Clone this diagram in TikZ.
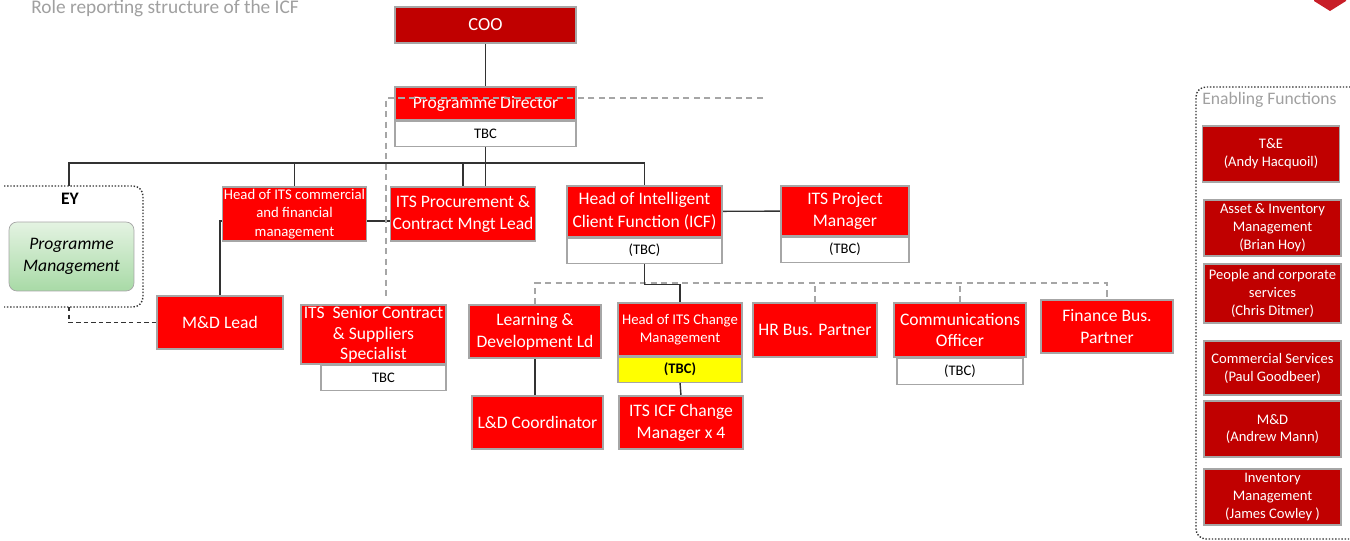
\documentclass[tikz,border=0pt]{standalone}
\usepackage{fontspec}
\setmainfont{Carlito}
\usetikzlibrary{positioning,backgrounds}

\definecolor{roleRed}{RGB}{255,0,0}
\definecolor{darkRed}{RGB}{192,0,0}
\definecolor{frameGrey}{RGB}{166,166,166}
\definecolor{titleGrey}{RGB}{160,160,160}
\definecolor{lineGrey}{RGB}{50,50,50}
\definecolor{pmTop}{RGB}{228,243,226}
\definecolor{pmBottom}{RGB}{168,218,166}
\definecolor{tbcYellow}{RGB}{255,255,0}
\definecolor{logoRed}{RGB}{200,30,40}

\tikzset{
  role/.style={draw=frameGrey, line width=0.6pt, fill=roleRed, text=white, align=center,
    inner sep=1pt, font=\fontsize{10}{12.5}\selectfont},
  smallrole/.style={role, font=\fontsize{8.4}{10.4}\selectfont},
  toprole/.style={role, fill=darkRed, font=\fontsize{10.5}{12.5}\selectfont},
  enabling/.style={role, fill=darkRed, minimum width=2.74cm, font=\fontsize{8.3}{10.2}\selectfont},
  tbc/.style={draw=frameGrey, line width=0.6pt, fill=white, inner sep=1pt, minimum height=0.5cm,
    font=\fontsize{8.3}{10}\selectfont},
  reportline/.style={draw=lineGrey, line width=0.8pt},
  greydash/.style={draw=frameGrey, line width=0.8pt, dash pattern=on 3.5pt off 2.5pt},
  eydash/.style={draw=lineGrey, line width=0.8pt, dash pattern=on 2.5pt off 1.8pt},
  groupframe/.style={draw=lineGrey, line width=0.8pt, dash pattern=on 0.8pt off 1pt, rounded corners=0.2cm},
}

\begin{document}
\begin{tikzpicture}[x=0.02cm, y=-0.02cm]
  \useasboundingbox (0,0) rectangle (1350,541);
  \clip (0,0) rectangle (1350,541);

  % title and logo
  \node[anchor=base west, text=titleGrey, inner sep=0pt, font=\fontsize{11}{13}\selectfont] (title) at (31,13) {Role reporting structure of the ICF};
  \fill[logoRed] (1314,-6) -- (1346,-6) -- (1346,1) -- (1330,11) -- (1314,1) -- cycle;

  % top of the tree
  \node[toprole, minimum width=3.62cm, minimum height=0.72cm] (coo) at (485.5,25) {COO};
  \node[role, minimum width=3.62cm, minimum height=0.66cm] (pd) at (485.5,103.5) {Programme Director};
  \node[tbc, minimum width=3.62cm, below=0pt of pd] (pdtbc) {TBC};

  % EY group
  \draw[groupframe] (4,186) -- (143,186) -- (143,307) -- (4,307);
  \node[font=\bfseries\fontsize{10}{12}\selectfont] (ey) at (70,199) {EY};
  \node[draw=frameGrey, rounded corners=0.16cm, top color=pmTop, bottom color=pmBottom,
    minimum width=2.5cm, minimum height=1.38cm, align=center,
    font=\itshape\fontsize{10}{12.5}\selectfont] (pm) at (71.5,256.5) {Programme\\Management};

  % second level
  \node[smallrole, minimum width=2.86cm, minimum height=1.08cm] (hc) at (294.5,214) {Head of ITS commercial\\and financial\\management};
  \node[role, minimum width=2.88cm, minimum height=1.08cm] (proc) at (463,214) {ITS Procurement \&\\Contract Mngt Lead};
  \node[role, minimum width=3.1cm, minimum height=1.02cm, font=\fontsize{10}{13}\selectfont] (icf) at (644.5,211.5) {Head of Intelligent\\Client Function (ICF)};
  \node[tbc, minimum width=3.1cm, below=0pt of icf] (icftbc) {(TBC)};
  \node[role, minimum width=2.56cm, minimum height=1.0cm] (itspm) at (845,211) {ITS Project\\Manager};
  \node[tbc, minimum width=2.56cm, below=0pt of itspm] (itspmtbc) {(TBC)};

  % third level
  \node[role, minimum width=2.52cm, minimum height=1.06cm] (md) at (220,322.5) {M\&D Lead};
  \node[role, inner sep=0pt, minimum width=2.9cm, minimum height=1.18cm, font=\fontsize{10}{11.8}\selectfont] (scs) at (373.5,334.5) {ITS\ \ Senior Contract\\\& Suppliers\\Specialist};
  \node[tbc, minimum width=2.5cm, anchor=north east] (scstbc) at (scs.south east) {TBC};
  \node[role, minimum width=2.64cm, minimum height=1.06cm] (ld) at (535,331.5) {Learning \&\\Development Ld};
  \node[role, minimum width=2.62cm, minimum height=1.06cm] (ldc) at (537.5,422.5) {L\&D Coordinator};
  \node[smallrole, minimum width=2.48cm, minimum height=1.06cm] (hcm) at (680,329.5) {Head of ITS Change\\Management};
  \node[tbc, fill=tbcYellow, minimum width=2.48cm, font=\bfseries\fontsize{8.3}{10}\selectfont, below=0pt of hcm] (hcmtbc) {(TBC)};
  \node[role, minimum width=2.48cm, minimum height=1.06cm] (icfcm) at (681,422.5) {ITS ICF Change\\Manager x 4};
  \node[role, minimum width=2.48cm, minimum height=1.08cm] (hr) at (815,330) {HR Bus. Partner};
  \node[role, minimum width=2.64cm, minimum height=1.08cm] (comms) at (960,330) {Communications\\Officer};
  \node[tbc, minimum width=2.52cm, minimum height=0.52cm, below=0pt of comms] (commstbc) {(TBC)};
  \node[role, minimum width=2.64cm, minimum height=1.06cm] (fin) at (1107,326.5) {Finance Bus.\\Partner};

  % enabling functions
  \draw[groupframe] (1360,87) -- (1196,87) -- (1196,539) -- (1360,539);
  \node[anchor=west, text=titleGrey, inner sep=0pt, font=\fontsize{10}{12}\selectfont] (entitle) at (1202,100) {Enabling Functions};
  \node[enabling, minimum height=1.12cm] (te) at (1271,154) {T\&E\\(Andy Hacquoil)};
  \node[enabling, minimum height=1.12cm] (asset) at (1272.5,228) {Asset \& Inventory\\Management\\(Brian Hoy)};
  \node[enabling, minimum height=1.18cm] (people) at (1272.5,293.5) {People and corporate\\services\\(Chris Ditmer)};
  \node[enabling, minimum height=1.08cm] (commercial) at (1272.5,368) {Commercial Services\\(Paul Goodbeer)};
  \node[enabling, minimum height=1.12cm] (mdfn) at (1272.5,429) {M\&D\\(Andrew Mann)};
  \node[enabling, minimum height=1.12cm] (inventory) at (1272.5,497) {Inventory\\Management\\(James Cowley )};

  \coordinate (bus) at (486,163);
  \coordinate (eytop) at (69,186);
  \coordinate (eybottom) at (69,307);
  \coordinate (dashbus) at (536,283);
  \coordinate (pddashend) at (763,98);
  \coordinate (pddashcorner) at (386,98);
  \coordinate (scsdashend) at (386,297);

  % dotted links on top
  \draw[greydash] (pddashend) -- (pddashcorner) -- (scsdashend);
  \draw[eydash] (eybottom) |- (md.west);

  \begin{pgfonlayer}{background}
    \fill[white] (0,0) rectangle (1350,541);
    \draw[greydash] (ld.north) -- (ld.north |- dashbus) -- (fin.north |- dashbus) -- (fin.north);
    \draw[greydash] (hr.north) -- (hr.north |- dashbus);
    \draw[greydash] (comms.north) -- (comms.north |- dashbus);
    \draw[reportline] (coo) -- (pd);
    \draw[reportline] (pdtbc.south) -- (pdtbc.south |- proc.north);
    \draw[reportline] (eytop) |- (bus) -| (icf.north);
    \draw[reportline] (hc.north) -- (hc.north |- bus);
    \draw[reportline] (proc.north) -- (proc.north |- bus);
    \draw[reportline] (md.north) |- ([yshift=-0.14cm]proc.west);
    \draw[reportline] (icf) -- (itspm);
    \draw[reportline] (icftbc.south) -- ++(0,21) -| (hcm.north);
    \draw[reportline] (ld.south) -- (ld.south |- ldc.north);
    \draw[reportline] (hcmtbc.south) -- (icfcm.north);
  \end{pgfonlayer}
\end{tikzpicture}
\end{document}
